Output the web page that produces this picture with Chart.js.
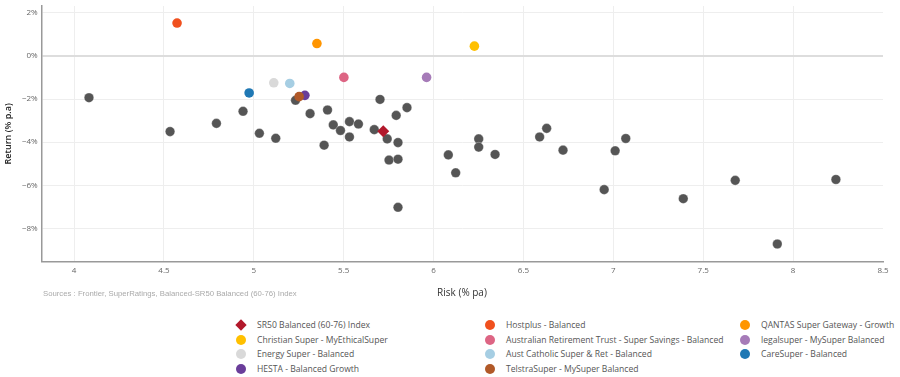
<!DOCTYPE html>
<html>
<head>
<meta charset="utf-8">
<script src="https://cdn.jsdelivr.net/npm/chart.js@4"></script>
<style>
  body { margin: 0; background: #fff; font-family: "Open Sans", "DejaVu Sans", sans-serif; }
  #wrap { position: relative; width: 900px; height: 377px; }
  #chartBox { position: absolute; left: 0; top: 0; width: 900px; height: 298px; }
  .lbl { position: absolute; white-space: nowrap; }
  #xTitle { left: 462px; top: 292px; transform: translate(-50%, -50%); font-size: 10px; color: #333; }
  #sources { left: 43px; top: 293px; transform: translateY(-50%); font-size: 7.75px; color: #aaa; font-family: "Liberation Sans", Arial, sans-serif; }
  .item { position: absolute; font-size: 8.6px; color: #555; transform: translateY(-50%); display: flex; align-items: center; }
  .mark { width: 10px; height: 10px; border-radius: 50%; margin-right: 11px; flex: none; }
  .diamond { width: 8px; height: 8px; border-radius: 0; transform: rotate(45deg); margin: 0 12px 0 1px; }
</style>
</head>
<body>
<div id="wrap">
  <div id="chartBox"><canvas id="riskReturn"></canvas></div>
  <div class="lbl" id="xTitle">Risk (% pa)</div>
  <div class="lbl" id="sources">Sources :  Frontier, SuperRatings, Balanced-SR50 Balanced (60-76) Index</div>
  <div id="legend"></div>
</div>
<script>
// --- データ ---
const xTicks = [4, 4.5, 5, 5.5, 6, 6.5, 7, 7.5, 8, 8.5];
const yTicks = [-8, -6, -4, -2, 0, 2];

// 名前付きファンド
const fundNames = [
  "SR50 Balanced (60-76) Index",
  "Christian Super - MyEthicalSuper",
  "Energy Super - Balanced",
  "HESTA - Balanced Growth",
  "Hostplus - Balanced",
  "Australian Retirement Trust - Super Savings  - Balanced",
  "Aust Catholic Super & Ret - Balanced",
  "TelstraSuper - MySuper Balanced",
  "QANTAS Super Gateway - Growth",
  "legalsuper - MySuper Balanced",
  "CareSuper - Balanced"
];
const fundRisk = [5.72, 6.227, 5.111, 5.284, 4.573, 5.501, 5.2, 5.252, 5.351, 5.961, 4.974];
const fundReturn = [-3.50, 0.45, -1.25, -1.83, 1.52, -1.0, -1.28, -1.89, 0.57, -1.0, -1.72];

// その他のファンド（灰色）
const otherRisk = [4.083, 4.534, 4.792, 4.94, 5.031, 5.122, 5.232, 5.313, 5.41, 5.391,
  5.442, 5.482, 5.532, 5.532, 5.582, 5.67, 5.702, 5.742, 5.802, 5.792,
  5.852, 5.752, 5.802, 5.802, 6.082, 6.123, 6.251, 6.251, 6.342, 6.59,
  6.629, 6.72, 6.949, 7.01, 7.069, 7.389, 7.678, 7.912, 8.238];
const otherReturn = [-1.94, -3.51, -3.13, -2.57, -3.59, -3.82, -2.06, -2.68, -2.51, -4.14,
  -3.20, -3.46, -3.05, -3.76, -3.16, -3.42, -2.02, -3.85, -4.02, -2.76,
  -2.40, -4.83, -4.79, -7.02, -4.59, -5.42, -3.85, -4.23, -4.57, -3.76,
  -3.36, -4.37, -6.20, -4.40, -3.83, -6.62, -5.77, -8.72, -5.73];

// 色
const fundColors = ["#b2182b", "#ffc000", "#d9d9d9", "#6a3d9a", "#f0501e", "#dd6584",
  "#a6cee3", "#b15928", "#ff9500", "#a67bb8", "#1f78b4"];
const grayColor = "#555555";

document.addEventListener("DOMContentLoaded", () => {
  const fmtPct = v => (v < 0 ? "\u2212" + Math.abs(v) : v) + "%";

  const datasets = fundNames.map((name, i) => ({
    label: name,
    data: [{ x: fundRisk[i], y: fundReturn[i] }],
    backgroundColor: fundColors[i],
    borderColor: fundColors[i],
    borderWidth: 0,
    pointStyle: i === 0 ? "rectRot" : "circle",
    pointRadius: i === 0 ? 6 : 4.8,
    order: i === 7 ? 0 : i + 1 // TelstraをHESTAの上に
  }));
  datasets.push({
    label: "Other",
    data: otherRisk.map((x, i) => ({ x, y: otherReturn[i] })),
    backgroundColor: grayColor,
    borderColor: "rgba(255,255,255,0.5)",
    borderWidth: 0.6,
    pointRadius: 4.8,
    order: 100
  });

  const ctx = document.getElementById("riskReturn").getContext("2d");
  new Chart(ctx, {
    type: "scatter",
    data: { datasets },
    options: {
      responsive: true,
      maintainAspectRatio: false,
      animation: false,
      layout: { padding: { left: 0, right: 17, top: 3, bottom: 0 } },
      plugins: { legend: { display: false }, tooltip: { enabled: false } },
      scales: {
        x: {
          type: "linear",
          min: 3.82,
          max: 8.5,
          afterBuildTicks: s => { s.ticks = xTicks.map(v => ({ value: v })); },
          afterFit: s => { s.height = 36.3; s.paddingLeft = 0; s.paddingRight = 0; },
          grid: {
            color: c => (c.tick && c.tick.value === 8.5 ? "rgba(0,0,0,0)" : "#eeeeee"),
            drawTicks: false
          },
          border: { color: "#999999", width: 1.5 },
          ticks: { padding: 4, color: "#666", font: { size: 8, family: "Open Sans" }, callback: v => String(v) }
        },
        y: {
          type: "linear",
          min: -9.54,
          max: 2.31,
          afterBuildTicks: s => { s.ticks = yTicks.map(v => ({ value: v })); },
          afterFit: s => { s.width = 41.7; s.paddingTop = 0; s.paddingBottom = 0; },
          grid: {
            color: c => (c.tick && c.tick.value === 0 ? "#dddddd" : "#eeeeee"),
            lineWidth: c => (c.tick && c.tick.value === 0 ? 2 : 1),
            drawTicks: false
          },
          border: { color: "#999999", width: 1.5 },
          ticks: { padding: 4, color: "#666", font: { size: 8, family: "Open Sans" }, callback: v => fmtPct(v) },
          title: {
            display: true,
            text: "Return (% p.a)",
            color: "#222",
            padding: { top: 3, bottom: 0 },
            font: { size: 9, family: "Open Sans", weight: "600" }
          }
        }
      }
    }
  });

  // 凡例（列優先）
  const colX = [236, 485, 740];
  const rowY = [325, 339.7, 354.4, 369];
  const legend = document.getElementById("legend");
  fundNames.forEach((name, i) => {
    const col = Math.floor(i / 4), row = i % 4;
    const el = document.createElement("div");
    el.className = "item";
    el.style.left = colX[col] + "px";
    el.style.top = rowY[row] + "px";
    const m = document.createElement("span");
    m.className = "mark" + (i === 0 ? " diamond" : "");
    m.style.background = fundColors[i];
    const t = document.createElement("span");
    t.textContent = name;
    el.appendChild(m);
    el.appendChild(t);
    legend.appendChild(el);
  });
});
</script>
</body>
</html>
